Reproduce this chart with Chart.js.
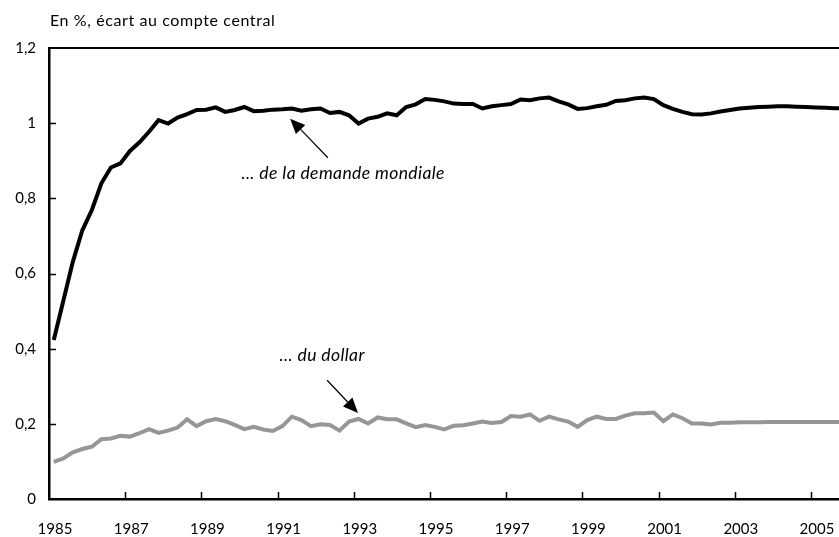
<!DOCTYPE html>
<html>
<head>
<meta charset="utf-8">
<script src="https://cdn.jsdelivr.net/npm/chart.js@4"></script>
<style>
html,body{margin:0;padding:0;background:#fff;}
canvas{display:block;}
</style>
</head>
<body>
<canvas id="c" width="839" height="537"></canvas>
<script>
// ---- Data ----
const startYear = 1985;
const quarters = [];
for (let y = 1985; y <= 2005; y++) for (let q = 1; q <= 4; q++) quarters.push(y + 'T' + q);

const demandeMondiale = [
  0.423,0.527,0.631,0.715,0.769,0.840,0.882,0.893,0.926,0.949,
  0.977,1.008,0.999,1.015,1.024,1.035,1.036,1.042,1.030,1.035,
  1.043,1.032,1.033,1.036,1.037,1.039,1.033,1.037,1.039,1.027,
  1.030,1.021,0.999,1.012,1.017,1.026,1.021,1.043,1.050,1.064,
  1.062,1.058,1.052,1.051,1.051,1.039,1.045,1.048,1.051,1.063,
  1.061,1.066,1.068,1.058,1.050,1.038,1.040,1.045,1.049,1.059,
  1.061,1.066,1.068,1.064,1.048,1.038,1.030,1.024,1.023,1.026,
  1.031,1.035,1.039,1.041,1.043,1.044,1.045,1.045,1.044,1.043,
  1.042,1.041,1.040,1.039
];
const dollar = [
  0.099,0.108,0.124,0.133,0.139,0.159,0.161,0.168,0.166,0.175,
  0.186,0.176,0.182,0.190,0.212,0.194,0.207,0.213,0.207,0.197,
  0.186,0.192,0.185,0.181,0.194,0.219,0.210,0.194,0.199,0.197,
  0.182,0.206,0.213,0.201,0.217,0.212,0.212,0.201,0.191,0.197,
  0.192,0.185,0.195,0.196,0.201,0.206,0.202,0.205,0.221,0.219,
  0.225,0.208,0.219,0.212,0.206,0.192,0.210,0.219,0.213,0.213,
  0.222,0.228,0.228,0.230,0.207,0.225,0.215,0.201,0.201,0.198,
  0.203,0.203,0.204,0.204,0.204,0.205,0.205,0.205,0.205,0.205,
  0.205,0.205,0.205,0.205
];
const xTickYears = [1985,1987,1989,1991,1993,1995,1997,1999,2001,2003,2005];
const yTickValues = [0,0.2,0.4,0.6,0.8,1,1.2];
const yTickLabels = ['0','0,2','0,4','0,6','0,8','1','1,2'];
const titleText = 'En %, écart au compte central';
const annotations = [
  {text: '... de la demande mondiale', x: 1992.72, y: 0.867, from: [1992.32, 0.908], to: [1991.33, 1.012]},
  {text: '... du dollar', x: 1992.17, y: 0.383, from: [1992.30, 0.316], to: [1993.11, 0.229]}
];

const FONT = 'Lato, "Open Sans", sans-serif';
function toXY(arr) { return arr.map((v, i) => ({x: startYear + (i + 0.5) / 4, y: v})); }

const decor = {
  id: 'decor',
  afterDraw(chart) {
    const ctx = chart.ctx, ca = chart.chartArea;
    const xs = chart.scales.x, ys = chart.scales.y;
    ctx.save();
    // title
    ctx.fillStyle = '#000';
    ctx.font = '16px ' + FONT;
    ctx.letterSpacing = '0.6px';
    ctx.textAlign = 'left';
    ctx.textBaseline = 'middle';
    ctx.fillText(titleText, 50, 21);
    // top border
    ctx.strokeStyle = '#000';
    ctx.lineWidth = 2;
    ctx.beginPath();
    ctx.moveTo(ca.left - 1, ca.top);
    ctx.lineTo(ca.right, ca.top);
    ctx.stroke();
    // inward ticks
    ctx.lineWidth = 1.5;
    ctx.beginPath();
    xTickYears.forEach(v => {
      const px = Math.round(xs.getPixelForValue(v)) + 0.5;
      if (v === startYear) return;
      ctx.moveTo(px, ca.bottom);
      ctx.lineTo(px, ca.bottom - 7);
    });
    yTickValues.forEach(v => {
      if (v === 0 || v === 1.2) return;
      const py = Math.round(ys.getPixelForValue(v)) + 0.5;
      ctx.moveTo(ca.left, py);
      ctx.lineTo(ca.left + 7, py);
    });
    ctx.stroke();
    // annotations
    annotations.forEach(a => {
      ctx.font = 'italic 17.5px ' + FONT;
      ctx.letterSpacing = '0.4px';
      ctx.textAlign = 'center';
      ctx.textBaseline = 'middle';
      ctx.fillStyle = '#000';
      ctx.fillText(a.text, xs.getPixelForValue(a.x), ys.getPixelForValue(a.y));
      const x1 = xs.getPixelForValue(a.from[0]), y1 = ys.getPixelForValue(a.from[1]);
      const x2 = xs.getPixelForValue(a.to[0]), y2 = ys.getPixelForValue(a.to[1]);
      const ang = Math.atan2(y2 - y1, x2 - x1);
      const L = 15, W = 6.5;
      const bx = x2 - L * Math.cos(ang), by = y2 - L * Math.sin(ang);
      ctx.lineWidth = 1.2;
      ctx.beginPath();
      ctx.moveTo(x1, y1);
      ctx.lineTo(bx, by);
      ctx.stroke();
      ctx.beginPath();
      ctx.moveTo(x2, y2);
      ctx.lineTo(bx + W * Math.sin(ang), by - W * Math.cos(ang));
      ctx.lineTo(bx - W * Math.sin(ang), by + W * Math.cos(ang));
      ctx.closePath();
      ctx.fill();
    });
    ctx.restore();
  }
};

new Chart(document.getElementById('c'), {
  type: 'line',
  data: {
    datasets: [
      {label: '... de la demande mondiale', data: toXY(demandeMondiale), borderColor: '#000', borderWidth: 4, pointRadius: 0, tension: 0, fill: false},
      {label: '... du dollar', data: toXY(dollar), borderColor: '#969696', borderWidth: 4, pointRadius: 0, tension: 0, fill: false}
    ]
  },
  options: {
    responsive: false,
    animation: false,
    events: [],
    layout: {padding: {left: 0, right: 0, top: 48, bottom: 0}},
    plugins: {legend: {display: false}, tooltip: {enabled: false}, title: {display: false}},
    scales: {
      x: {
        type: 'linear',
        min: 1985,
        max: 1985 + 790 / 38.1,
        afterBuildTicks: s => { s.ticks = xTickYears.map(v => ({value: v})); },
        afterFit: s => { s.height = 38; s.paddingLeft = 0; s.paddingRight = 0; },
        grid: {display: false, drawTicks: false},
        border: {display: true, color: '#000', width: 2.5},
        ticks: {
          color: '#000', font: {family: FONT, size: 15}, padding: 21, labelOffset: 6,
          maxRotation: 0, autoSkip: false,
          callback: v => String(v)
        }
      },
      y: {
        min: 0,
        max: 1.2,
        afterBuildTicks: s => { s.ticks = yTickValues.map(v => ({value: v})); },
        afterFit: s => { s.width = 49; s.paddingTop = 0; s.paddingBottom = 0; },
        grid: {display: false, drawTicks: false},
        border: {display: true, color: '#000', width: 2.5},
        ticks: {
          color: '#000', font: {family: FONT, size: 15}, padding: 13,
          callback: v => yTickLabels[yTickValues.indexOf(v)] ?? ''
        }
      }
    }
  },
  plugins: [decor]
});
</script>
</body>
</html>
